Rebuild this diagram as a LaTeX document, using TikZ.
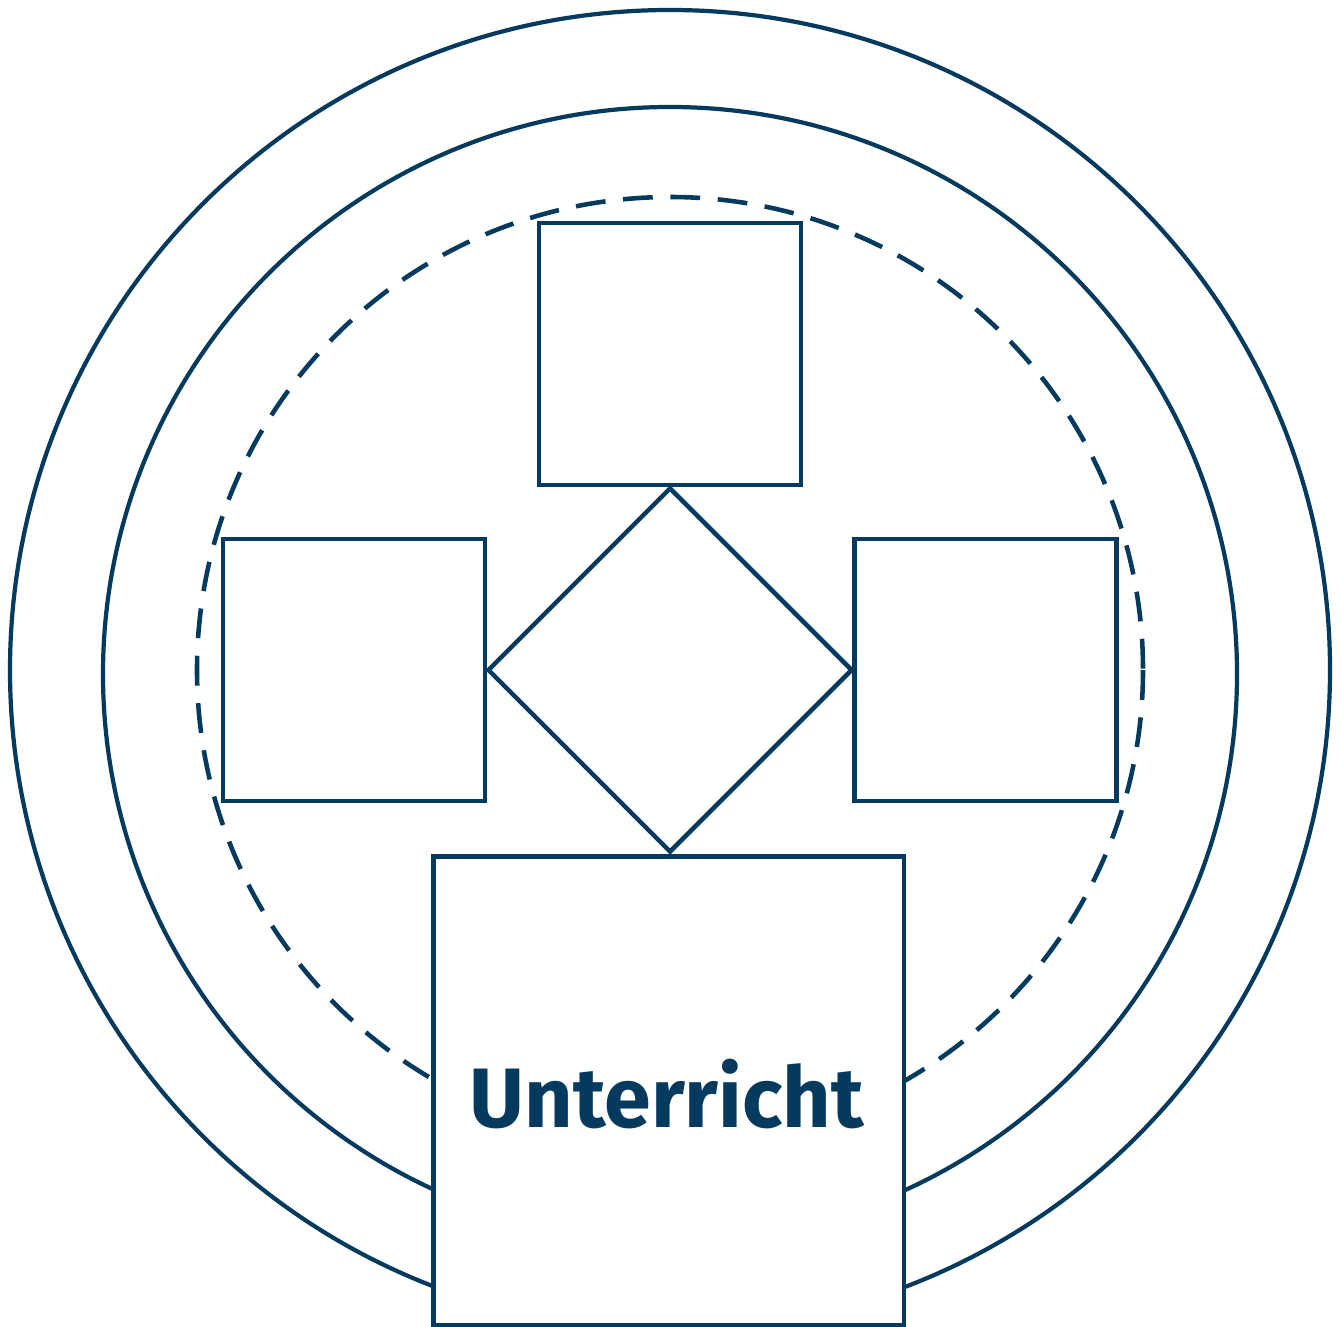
\documentclass[tikz,border=0pt]{standalone}
\usepackage{fontspec}
\setsansfont{Fira Sans}
\usetikzlibrary{positioning,shapes.geometric}
\definecolor{navy}{HTML}{043A5E}

\begin{document}
\begin{tikzpicture}[
    x=0.02cm, y=-0.02cm,
    ringLine/.style={draw=navy, line width=2.4pt},
    dashRing/.style={draw=navy, line width=2.6pt, dash pattern=on 17pt off 10pt},
    fieldBox/.style={rectangle, draw=navy, fill=white, line width=2.8pt, minimum width=5.24cm, minimum height=5.24cm, inner sep=0pt},
    coreDiamond/.style={diamond, draw=navy, fill=white, line width=2.6pt, minimum size=7.3cm, inner sep=0pt},
    mainBox/.style={rectangle, draw=navy, fill=white, line width=2.8pt, minimum width=9.42cm, minimum height=9.38cm, inner sep=0pt},
    titleFont/.style={font=\sffamily\bfseries\fontsize{48}{52}\selectfont, text=navy}
]
    \useasboundingbox (0,0) rectangle (1341,1327);

    % Ringe
    \coordinate (mid) at (670,670);
    \draw[ringLine] (mid) circle[radius=660];
    \draw[ringLine] (670,674) circle[radius=567];
    \draw[dashRing] (mid) circle[radius=473];

    % Felder
    \node[fieldBox] (top) at (670,354) {};
    \node[fieldBox] (left) at (354,670) {};
    \node[fieldBox] (right) at (985.5,670) {};
    \node[coreDiamond] (core) at (670,670) {};

    % Unterricht
    \node[mainBox] (lesson) at (668.5,1090.5) {};
    \node[titleFont] (lessonLabel) at (667,1094) {Unterricht};
\end{tikzpicture}
\end{document}
